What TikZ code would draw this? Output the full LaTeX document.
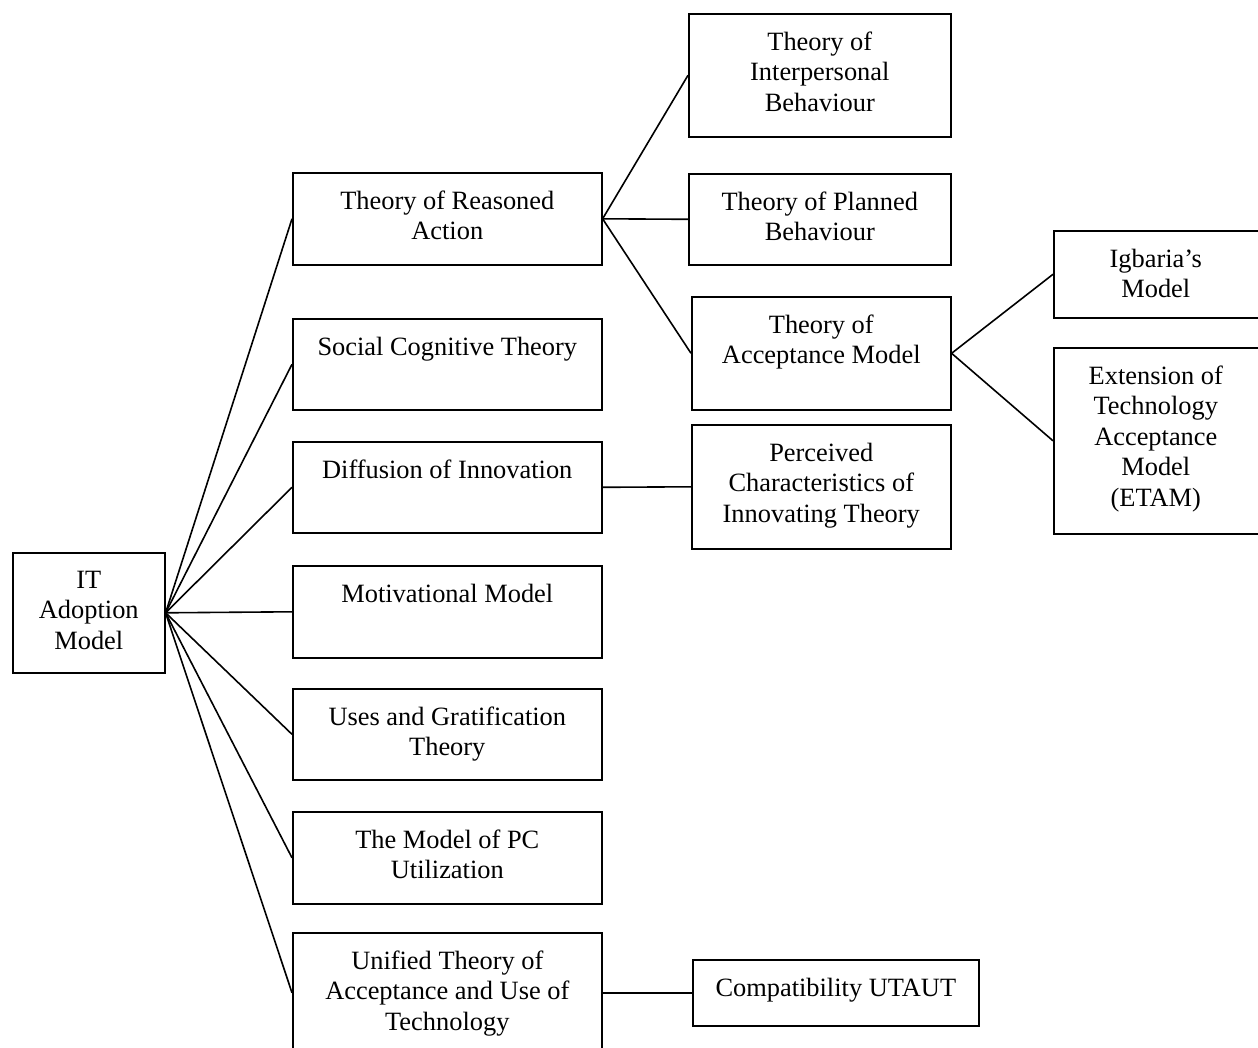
\documentclass[tikz,border=0pt]{standalone}
\usepackage{fontspec}
\setmainfont{Liberation Serif}
\usetikzlibrary{positioning}

\begin{document}
\begin{tikzpicture}[x=1pt,y=-1pt,line width=1.6pt,
 box/.style={draw,rectangle,anchor=north west,inner sep=0pt},
 txt/.style={anchor=north,inner sep=0pt,align=center,font=\fontsize{26.4}{30.5}\selectfont}]
 \useasboundingbox (0,0) rectangle (1258,1048);
 % root
 \node[box,minimum width=152pt,minimum height=120pt] (it) at (12,552) {};
 \node[txt,below=18pt of it.north] (it-t) {IT\\Adoption\\Model};
 % second column
 \node[box,minimum width=309pt,minimum height=92pt] (tra) at (292,172) {};
 \node[txt,below=18pt of tra.north] (tra-t) {Theory of Reasoned\\Action};
 \node[box,minimum width=309pt,minimum height=91pt] (sct) at (292,318) {};
 \node[txt,below=18pt of sct.north] (sct-t) {Social Cognitive Theory};
 \node[box,minimum width=309pt,minimum height=91pt] (doi) at (292,441) {};
 \node[txt,below=18pt of doi.north] (doi-t) {Diffusion of Innovation};
 \node[box,minimum width=309pt,minimum height=92pt] (mm) at (292,565) {};
 \node[txt,below=18pt of mm.north] (mm-t) {Motivational Model};
 \node[box,minimum width=309pt,minimum height=91pt] (ugt) at (292,688) {};
 \node[txt,below=18pt of ugt.north] (ugt-t) {Uses and Gratification\\Theory};
 \node[box,minimum width=309pt,minimum height=92pt] (pc) at (292,811) {};
 \node[txt,below=18pt of pc.north] (pc-t) {The Model of PC\\Utilization};
 \node[box,minimum width=309pt,minimum height=120pt] (ut) at (292,932) {};
 \node[txt,below=18pt of ut.north] (ut-t) {Unified Theory of\\Acceptance and Use of\\Technology};
 % third column
 \node[box,minimum width=262pt,minimum height=123pt] (tib) at (688,13) {};
 \node[txt,below=18pt of tib.north] (tib-t) {Theory of\\Interpersonal\\Behaviour};
 \node[box,minimum width=262pt,minimum height=91pt] (tpb) at (688,173) {};
 \node[txt,below=18pt of tpb.north] (tpb-t) {Theory of Planned\\Behaviour};
 \node[box,minimum width=259pt,minimum height=113pt] (tam) at (691,296) {};
 \node[txt,below=18pt of tam.north] (tam-t) {Theory of\\Acceptance Model};
 \node[box,minimum width=259pt,minimum height=124pt] (pcit) at (691,424) {};
 \node[txt,below=18pt of pcit.north] (pcit-t) {Perceived\\Characteristics of\\Innovating Theory};
 \node[box,minimum width=286pt,minimum height=66pt] (cu) at (692,959) {};
 \node[txt,below=18pt of cu.north] (cu-t) {Compatibility UTAUT};
 % fourth column
 \node[box,minimum width=212pt,minimum height=87pt] (igb) at (1053,230) {};
 \node[txt,below=18pt of igb.north,xshift=-4pt] (igb-t) {Igbaria's\\Model};
 \node[box,minimum width=212pt,minimum height=186pt] (etam) at (1053,347) {};
 \node[txt,below=18pt of etam.north,xshift=-4pt] (etam-t) {Extension of\\Technology\\Acceptance\\Model\\(ETAM)};
 % connectors
 \foreach \n in {tra,sct,doi,mm,ugt,pc,ut}
  \draw (it.east) -- (\n.west);
 \foreach \n in {tib,tpb,tam}
  \draw (tra.east) -- (\n.west);
 \draw (doi.east) -- (pcit.west);
 \foreach \n in {igb,etam}
  \draw (tam.east) -- (\n.west);
 \draw (ut.east) -- (cu.west);
\end{tikzpicture}
\end{document}
